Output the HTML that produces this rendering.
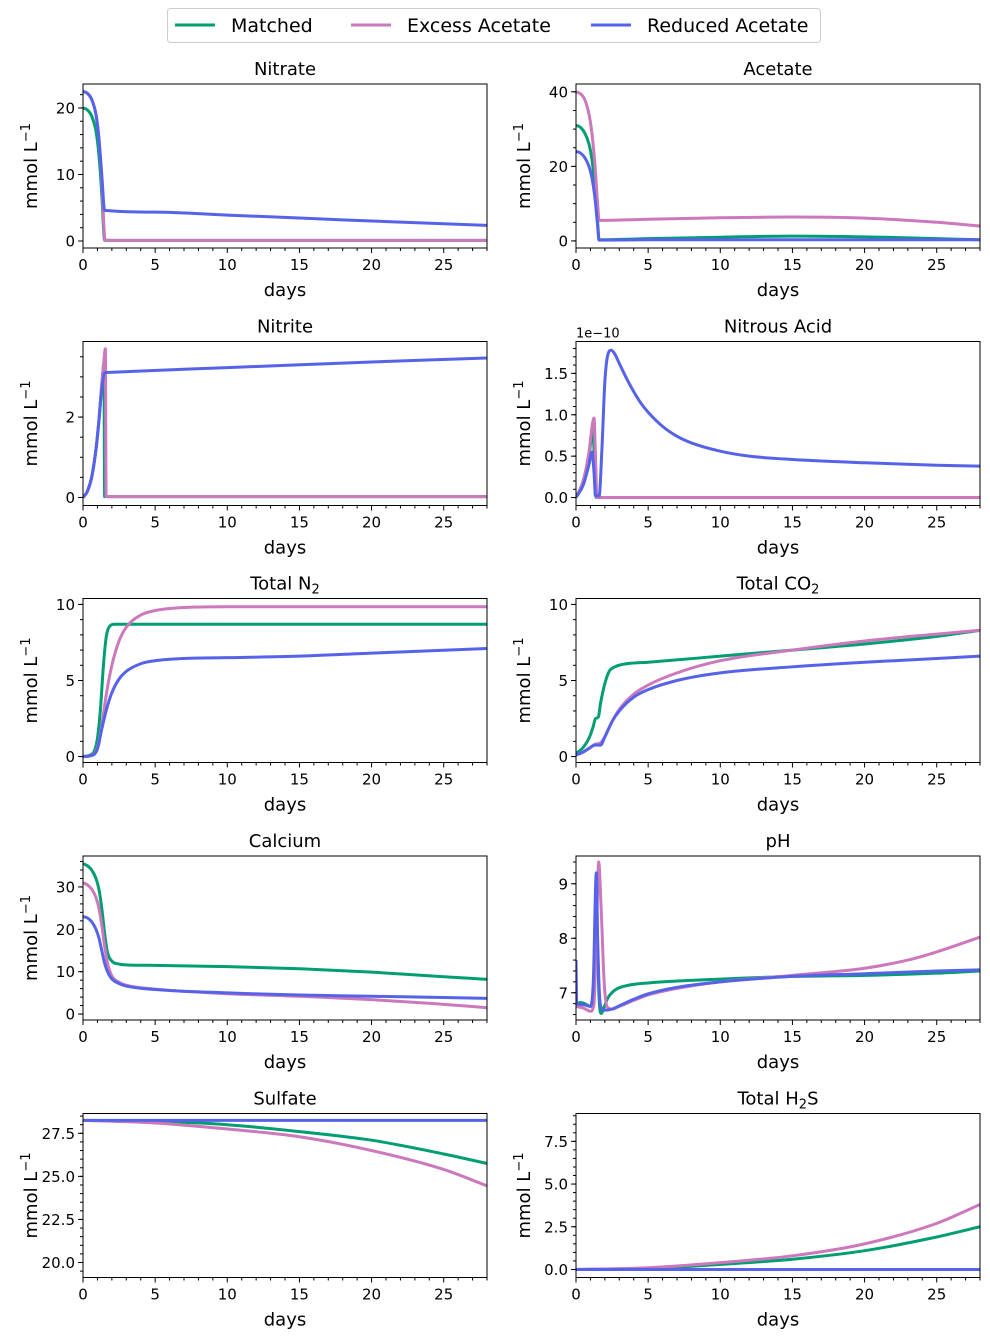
<!DOCTYPE html>
<html><head><meta charset="utf-8"><style>
html,body{margin:0;padding:0;background:#fff;}
svg text{font-family:"DejaVu Sans","Liberation Sans",sans-serif;fill:#000;}
</style></head><body>
<svg id="fig" width="990" height="1339" viewBox="0 0 990 1339" xmlns="http://www.w3.org/2000/svg">
<g>
<rect x="167.5" y="8.5" width="653" height="34" rx="3" fill="#fff" stroke="#ccc"/>
<line x1="175" y1="25" x2="215" y2="25" stroke="#029e73" stroke-width="3"/>
<text x="231" y="32" font-size="19">Matched</text>
<line x1="351" y1="25" x2="391" y2="25" stroke="#cc78bc" stroke-width="3"/>
<text x="407" y="32" font-size="19">Excess Acetate</text>
<line x1="591" y1="25" x2="631" y2="25" stroke="#5663e8" stroke-width="3"/>
<text x="647" y="32" font-size="19">Reduced Acetate</text>
</g>
</svg>
<script>
const seriesNames=['matched','excess','reduced'];
const colors=['#029e73','#cc78bc','#5663e8'];
// Nitrate
const nitrateMatched=[[0,20],[0.3,19.7],[0.6,18.8],[0.9,16.5],[1.1,13],[1.3,7],[1.45,1],[1.5,0.1],[28,0.1]];
const nitrateExcess=[[0,22.5],[0.3,22.2],[0.6,21.3],[0.9,19],[1.1,15.5],[1.3,9],[1.5,0.5],[1.55,0.1],[28,0.1]];
const nitrateReduced=[[0,22.5],[0.3,22.2],[0.6,21.3],[0.9,19],[1.1,15.5],[1.3,10],[1.5,4.6],[5,4.35],[10,3.9],[15,3.45],[20,3.0],[25,2.6],[28,2.35]];
// Acetate
const acetateMatched=[[0,31],[0.3,30.5],[0.6,29],[0.9,26],[1.1,22],[1.3,15],[1.5,5],[1.6,0.3],[5,0.6],[10,1],[15,1.3],[20,1.1],[25,0.6],[28,0.3]];
const acetateExcess=[[0,40],[0.3,39.5],[0.6,38],[0.9,34],[1.1,29],[1.3,21],[1.5,10],[1.6,5.5],[5,5.8],[10,6.2],[15,6.4],[20,6.1],[25,5],[28,4]];
const acetateReduced=[[0,24],[0.3,23.6],[0.6,22.4],[0.9,20],[1.1,17],[1.3,12],[1.5,4],[1.6,0.2],[5,0.3],[10,0.3],[28,0.3]];
// Nitrite
const nitriteMatched=[[0,0],[0.3,0.15],[0.6,0.5],[0.9,1.2],[1.1,1.9],[1.3,2.8],[1.45,3.3],[1.5,0.02],[28,0.02]];
const nitriteExcess=[[0,0],[0.3,0.15],[0.6,0.5],[0.9,1.2],[1.1,1.9],[1.3,2.8],[1.45,3.4],[1.55,3.7],[1.6,0.02],[28,0.02]];
const nitriteReduced=[[0,0],[0.3,0.15],[0.6,0.5],[0.9,1.2],[1.1,1.9],[1.3,2.7],[1.5,3.1],[1.6,3.11],[10,3.23],[20,3.37],[28,3.47]];
// Nitrous acid (x1e-10)
const hno2Matched=[[0,0],[0.5,0.2],[0.9,0.5],[1.15,0.8],[1.3,0.4],[1.4,0.0],[28,0]];
const hno2Excess=[[0,0],[0.5,0.2],[0.9,0.55],[1.15,0.9],[1.25,0.96],[1.35,0.5],[1.45,0.0],[28,0]];
const hno2Reduced=[[0,0],[0.5,0.15],[0.9,0.4],[1.1,0.55],[1.25,0.3],[1.35,0.02],[1.6,0.02],[1.8,0.6],[2.0,1.4],[2.2,1.72],[2.45,1.78],[2.7,1.73],[3,1.62],[3.5,1.44],[4,1.28],[4.5,1.14],[5,1.03],[6,0.86],[7,0.74],[8,0.66],[10,0.56],[12,0.5],[15,0.46],[20,0.42],[25,0.39],[28,0.38]];
// Total N2
const n2Matched=[[0,0],[0.5,0.1],[0.8,0.4],[1.0,1.2],[1.2,3],[1.4,5.8],[1.6,7.8],[1.8,8.5],[2.2,8.7],[28,8.7]];
const n2Excess=[[0,0],[0.5,0.05],[1,0.6],[1.3,2],[1.6,4],[2,6],[2.5,7.6],[3,8.5],[4,9.3],[5,9.6],[7,9.8],[10,9.85],[28,9.85]];
const n2Reduced=[[0,0],[0.5,0.05],[1,0.5],[1.3,1.8],[1.6,3],[2,4.2],[2.5,5.1],[3,5.6],[4,6.1],[5,6.3],[7,6.45],[10,6.5],[15,6.6],[20,6.8],[28,7.1]];
// Total CO2
const co2Matched=[[0,0.2],[0.5,0.6],[0.9,1.2],[1.2,2],[1.35,2.5],[1.55,2.6],[1.7,3.5],[2,4.8],[2.3,5.6],[2.7,5.9],[3.5,6.1],[5,6.2],[10,6.6],[15,7],[20,7.4],[25,7.9],[28,8.3]];
const co2Excess=[[0,0.1],[0.5,0.3],[1,0.6],[1.3,0.8],[1.7,0.9],[2,1.3],[2.5,2.3],[3,3.1],[4,4.1],[5,4.7],[7,5.5],[10,6.3],[15,7],[20,7.6],[25,8.05],[28,8.3]];
const co2Reduced=[[0,0.1],[0.5,0.3],[1,0.6],[1.3,0.75],[1.7,0.75],[2,1.3],[2.5,2.3],[3,3],[4,3.9],[5,4.4],[7,5],[10,5.5],[15,5.9],[20,6.2],[25,6.45],[28,6.6]];
// Calcium
const caMatched=[[0,35.5],[0.3,35],[0.6,34],[0.9,32],[1.1,29.5],[1.3,25],[1.5,19],[1.7,14.5],[2,12.5],[2.5,11.8],[3,11.6],[5,11.5],[10,11.2],[15,10.7],[20,9.9],[25,8.8],[28,8.2]];
const caExcess=[[0,31],[0.3,30.5],[0.6,29.5],[0.9,27.5],[1.1,25],[1.3,21],[1.5,16],[1.7,12],[2,9],[2.5,7.5],[3,6.8],[5,5.9],[10,4.8],[15,4.2],[20,3.4],[25,2.3],[28,1.5]];
const caReduced=[[0,23],[0.3,22.7],[0.6,21.8],[0.9,20],[1.1,18],[1.3,15],[1.5,12],[1.7,10],[2,8.3],[2.5,7.2],[3,6.6],[5,5.8],[10,5],[15,4.5],[20,4.2],[25,3.9],[28,3.7]];
// pH
const phMatched=[[0,6.78],[0.3,6.82],[0.6,6.8],[1,6.75],[1.2,6.8],[1.38,8.8],[1.5,7.8],[1.6,6.9],[1.75,6.62],[1.9,6.7],[2.2,6.9],[2.7,7.05],[3.5,7.13],[5,7.18],[10,7.25],[15,7.3],[20,7.32],[25,7.36],[28,7.4]];
const phExcess=[[0,6.75],[0.5,6.72],[1,6.66],[1.25,6.8],[1.45,8.5],[1.57,9.4],[1.75,8.5],[1.95,7.2],[2.15,6.75],[2.5,6.7],[3,6.75],[4,6.86],[5,6.96],[7,7.08],[10,7.2],[15,7.32],[20,7.45],[23,7.6],[25,7.75],[28,8.02]];
const phReduced=[[0,7.6],[0.05,6.8],[0.5,6.78],[1.0,6.75],[1.2,7.2],[1.41,9.2],[1.5,8],[1.62,7.0],[1.75,6.72],[2,6.68],[2.5,6.7],[3,6.76],[4,6.88],[5,6.98],[7,7.1],[10,7.2],[15,7.3],[20,7.35],[25,7.4],[28,7.42]];
// Sulfate
const so4Matched=[[0,28.25],[5,28.2],[10,28.0],[15,27.6],[20,27.1],[25,26.3],[28,25.75]];
const so4Excess=[[0,28.25],[5,28.1],[10,27.75],[15,27.3],[20,26.5],[25,25.4],[28,24.45]];
const so4Reduced=[[0,28.25],[28,28.25]];
// Total H2S
const h2sMatched=[[0,0],[5,0.05],[10,0.3],[15,0.6],[20,1.1],[25,1.9],[28,2.5]];
const h2sExcess=[[0,0],[5,0.1],[10,0.4],[15,0.8],[20,1.5],[25,2.7],[28,3.8]];
const h2sReduced=[[0,0],[28,0]];
const xTicks=[0,5,10,15,20,25];
const panels=[
 {name:'nitrate',title:'Nitrate',y:[-1.05,23.6],ticks:[0,10,20],minor:2,labels:['0','10','20'],s:[nitrateMatched,nitrateExcess,nitrateReduced]},
 {name:'acetate',title:'Acetate',y:[-1.9,42.1],ticks:[0,20,40],minor:5,labels:['0','20','40'],s:[acetateMatched,acetateExcess,acetateReduced]},
 {name:'nitrite',title:'Nitrite',y:[-0.2,3.88],ticks:[0,2],minor:0.5,labels:['0','2'],s:[nitriteMatched,nitriteExcess,nitriteReduced]},
 {name:'nitrous-acid',title:'Nitrous Acid',y:[-0.096,1.885],ticks:[0,0.5,1,1.5],minor:0.1,labels:['0.0','0.5','1.0','1.5'],s:[hno2Matched,hno2Excess,hno2Reduced],offset:true},
 {name:'total-n2',title:'Total N<tspan dy="4" font-size="13">2</tspan>',y:[-0.39,10.39],ticks:[0,5,10],minor:1,labels:['0','5','10'],s:[n2Matched,n2Excess,n2Reduced]},
 {name:'total-co2',title:'Total CO<tspan dy="4" font-size="13">2</tspan>',y:[-0.39,10.39],ticks:[0,5,10],minor:1,labels:['0','5','10'],s:[co2Matched,co2Excess,co2Reduced]},
 {name:'calcium',title:'Calcium',y:[-1.4,37.3],ticks:[0,10,20,30],minor:2,labels:['0','10','20','30'],s:[caMatched,caExcess,caReduced]},
 {name:'ph',title:'pH',y:[6.5,9.51],ticks:[7,8,9],minor:0.2,labels:['7','8','9'],s:[phMatched,phExcess,phReduced],noYLabel:true},
 {name:'sulfate',title:'Sulfate',y:[19.13,28.65],ticks:[20,22.5,25,27.5],minor:0.5,labels:['20.0','22.5','25.0','27.5'],s:[so4Matched,so4Excess,so4Reduced]},
 {name:'total-h2s',title:'Total H<tspan dy="4" font-size="13">2</tspan><tspan dy="-4">S</tspan>',y:[-0.47,9.13],ticks:[0,2.5,5,7.5],minor:0.5,labels:['0.0','2.5','5.0','7.5'],s:[h2sMatched,h2sExcess,h2sReduced]}
];
const svg=document.getElementById('fig');
const NS='http://www.w3.org/2000/svg';
function mk(tag,attrs,parent){const e=document.createElementNS(NS,tag);for(const k in attrs)e.setAttribute(k,attrs[k]);parent.appendChild(e);return e;}
function monoPath(P){
 const n=P.length;if(n<3)return P.map((q,j)=>(j?'L':'M')+q[0].toFixed(2)+','+q[1].toFixed(2)).join('');
 const d=[],m=[];
 for(let i=0;i<n-1;i++){const dx=P[i+1][0]-P[i][0];d.push(dx>0?(P[i+1][1]-P[i][1])/dx:0);}
 m[0]=d[0];m[n-1]=d[n-2];
 for(let i=1;i<n-1;i++){m[i]=(d[i-1]*d[i]<=0)?0:(d[i-1]+d[i])/2;}
 for(let i=0;i<n-1;i++){if(d[i]===0){m[i]=0;m[i+1]=0;continue;}const a=m[i]/d[i],b=m[i+1]/d[i],s=a*a+b*b;if(s>9){const t=3/Math.sqrt(s);m[i]=t*a*d[i];m[i+1]=t*b*d[i];}}
 let s='M'+P[0][0].toFixed(2)+','+P[0][1].toFixed(2);
 for(let i=0;i<n-1;i++){const h=(P[i+1][0]-P[i][0])/3;
  s+='C'+(P[i][0]+h).toFixed(2)+','+(P[i][1]+m[i]*h).toFixed(2)+' '+(P[i+1][0]-h).toFixed(2)+','+(P[i+1][1]-m[i+1]*h).toFixed(2)+' '+P[i+1][0].toFixed(2)+','+P[i+1][1].toFixed(2);}
 return s;}
const colX=[83,576],W=404,H=164,rowY=[84,341.5,598.5,856,1113.5];
panels.forEach((p,i)=>{
 const L=colX[i%2],T=rowY[Math.floor(i/2)];
 const g=mk('g',{},svg);
 
 
 const xs=v=>L+v/28*W;
 const ys=v=>T+H-(v-p.y[0])/(p.y[1]-p.y[0])*H;
 const clip=mk('clipPath',{id:'c'+i},g);mk('rect',{x:L,y:T,width:W,height:H},clip);
 for(let d=0;d<=28;d++){const maj=d%5===0;mk('line',{x1:xs(d),x2:xs(d),y1:T+H,y2:T+H+(maj?5:3),stroke:'#000','stroke-width':1},g);}
 xTicks.forEach(v=>{const t=mk('text',{x:xs(v),y:T+H+22,'font-size':15,'text-anchor':'middle'},g);t.textContent=v;
  });
 const m0=Math.ceil(p.y[0]/p.minor-1e-6);
 for(let k=m0;k*p.minor<=p.y[1]+1e-9;k++){const v=k*p.minor;mk('line',{x1:L,x2:L-3,y1:ys(v),y2:ys(v),stroke:'#000','stroke-width':1},g);}
 p.ticks.forEach((v,j)=>{mk('line',{x1:L,x2:L-5,y1:ys(v),y2:ys(v),stroke:'#000','stroke-width':1},g);
  const t=mk('text',{x:L-8,y:ys(v)+5.5,'font-size':15,'text-anchor':'end'},g);t.textContent=p.labels[j];
  });
 p.s.forEach((arr,k)=>{const d=monoPath(arr.map(q=>[xs(q[0]),ys(q[1])]));
  const pa=mk('path',{d:d,fill:'none',stroke:colors[k],'stroke-width':3,'stroke-linejoin':'round','clip-path':'url(#c'+i+')'},g);
  
  });
 mk('rect',{x:L,y:T,width:W,height:H,fill:'none',stroke:'#000','stroke-width':1},g);
 const tt=mk('text',{x:L+W/2,y:T-9,'font-size':18,'text-anchor':'middle'},g);tt.innerHTML=p.title;
 
 const xl=mk('text',{x:L+W/2,y:T+H+48,'font-size':18,'text-anchor':'middle'},g);xl.textContent='days';
 
 if(!p.noYLabel){const yx=L-46,yy=T+H/2;
  const yl=mk('text',{x:yx,y:yy,'font-size':18,'text-anchor':'middle',transform:'rotate(-90 '+yx+' '+yy+')'},g);
  yl.innerHTML='mmol L<tspan dy="-7" font-size="13">−1</tspan>';
  }
 if(p.offset){const o=mk('text',{x:L,y:T-4,'font-size':13},g);o.textContent='1e−10';
  }
});
</script>
</body></html>
